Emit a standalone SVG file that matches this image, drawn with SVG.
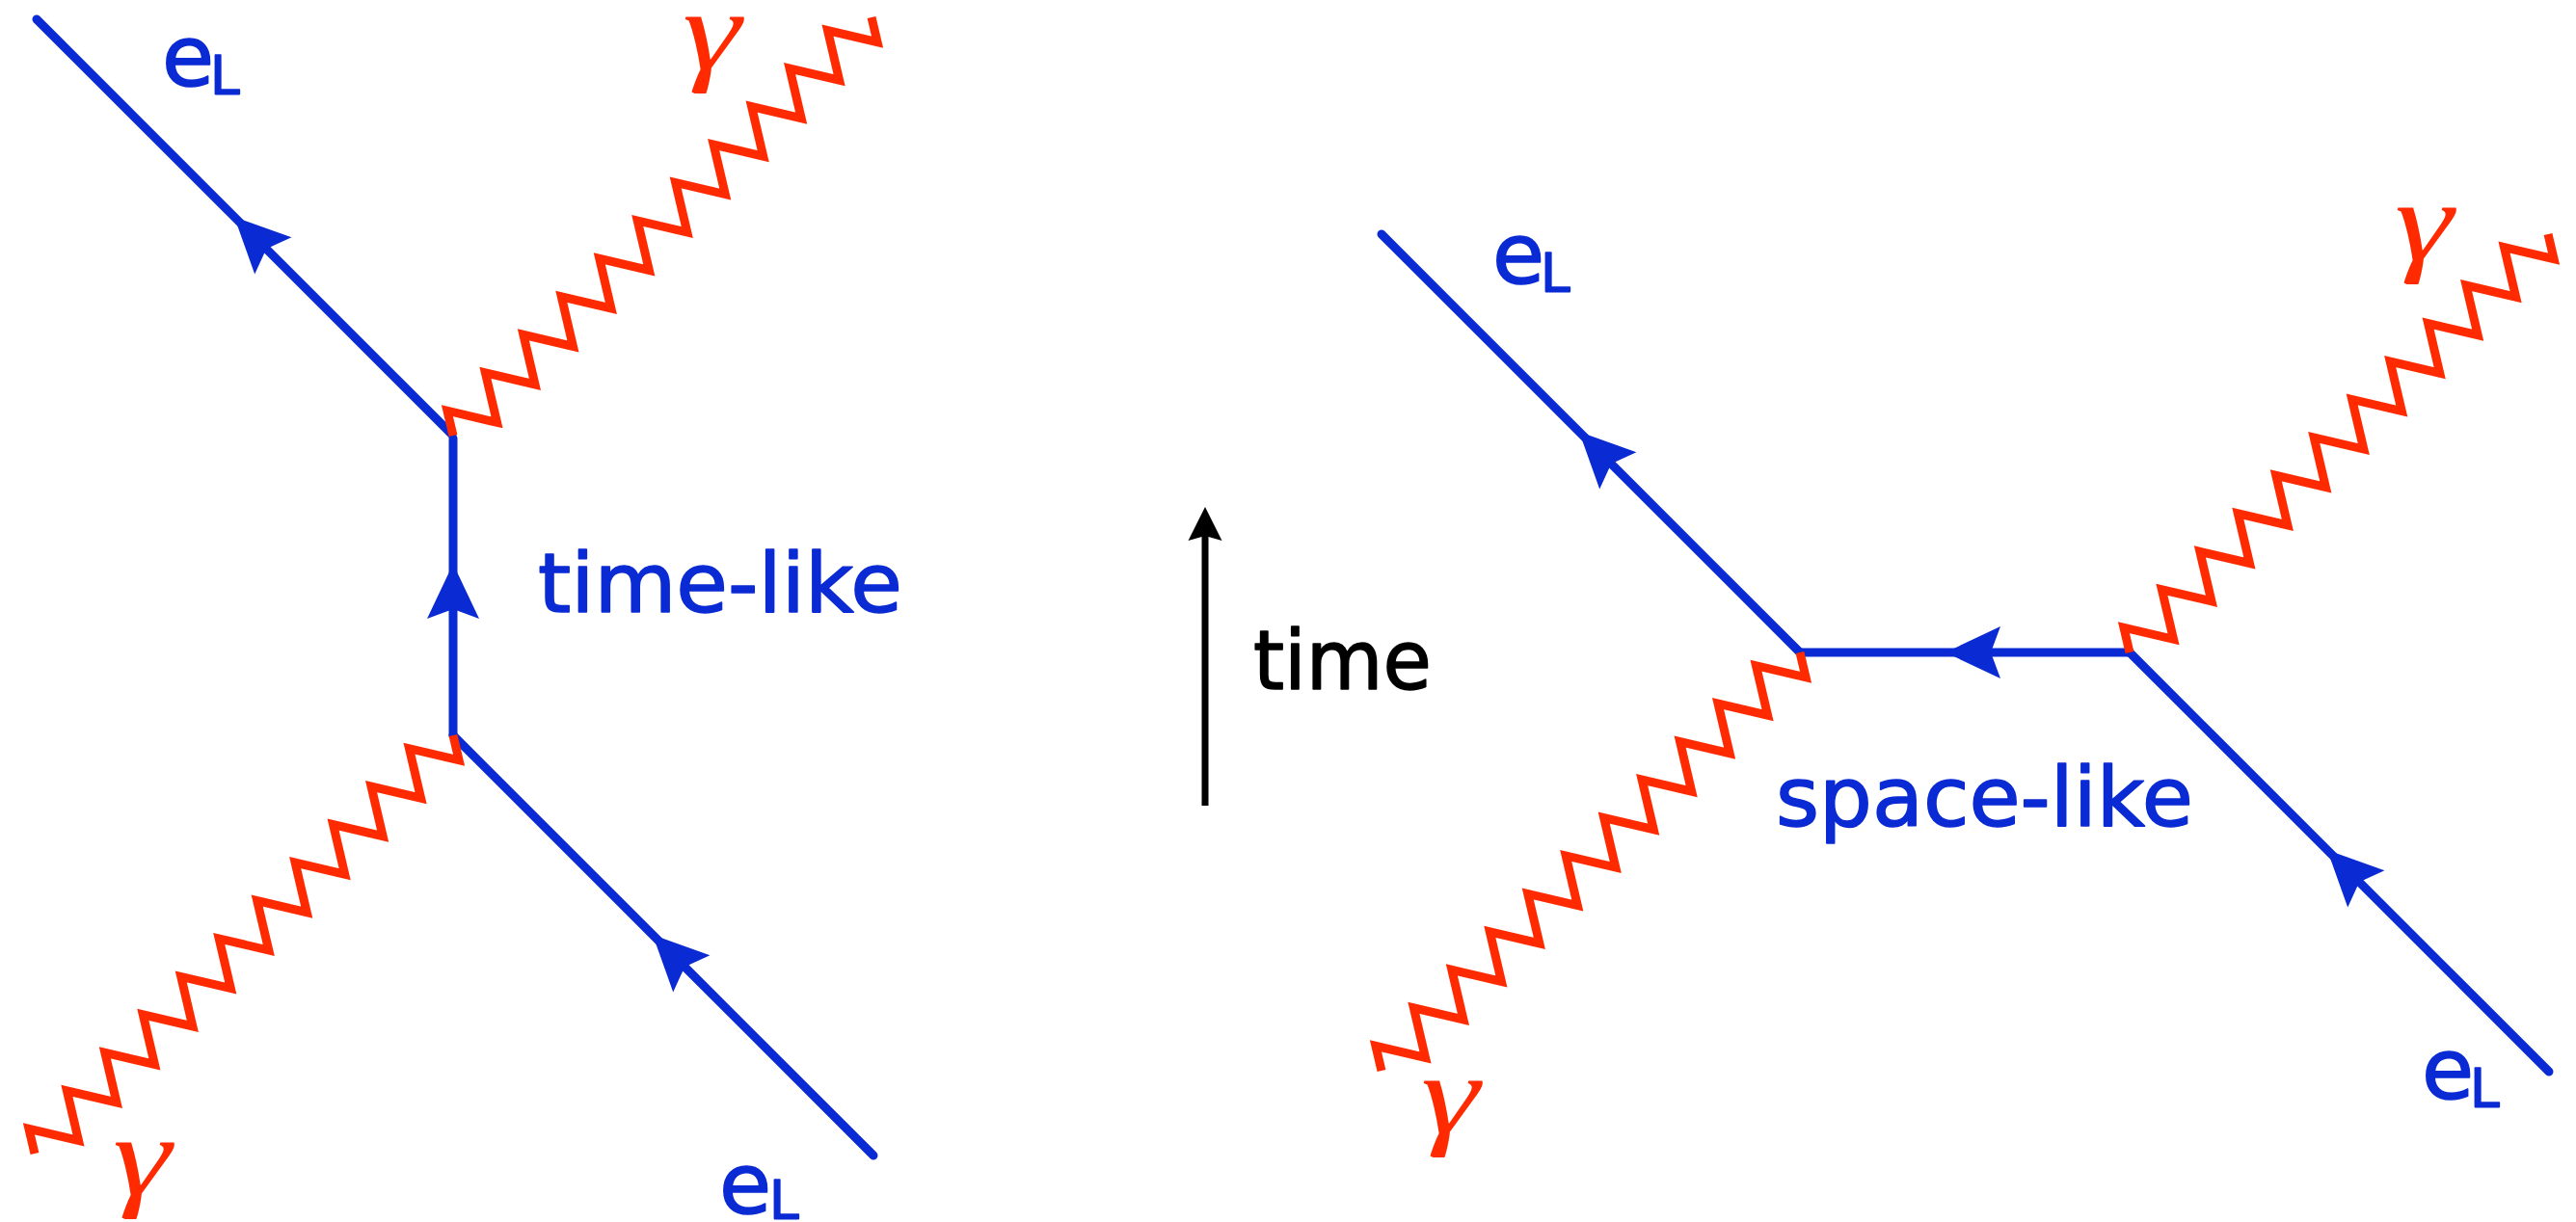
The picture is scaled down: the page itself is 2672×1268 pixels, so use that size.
<svg xmlns="http://www.w3.org/2000/svg" xmlns:xlink="http://www.w3.org/1999/xlink" width="2672" height="1268" viewBox="0 0 2672 1268">
  <style>
    .fermion { fill: none; stroke: #0a2ad4; stroke-width: 9; stroke-linecap: round; }
    .photon { fill: none; stroke: #ff2a00; stroke-width: 9; stroke-linejoin: miter; stroke-linecap: butt; }
    .arrowhead { fill: #0a2ad4; }
    .lbl { font-family: "DejaVu Sans", "Liberation Sans", sans-serif; fill: #0a2ad4; stroke: #0a2ad4; stroke-width: 1.6; stroke-linejoin: round; }
    .blk { fill: #000000; stroke: #000000; }
    .gam { font-family: "Liberation Serif", "DejaVu Serif", serif; font-style: italic; fill: #ff2a00; font-size: 118px; }
    .big { font-size: 85px; }
    .e { font-size: 88px; }
    .sub { font-size: 55px; }
  </style>
  <defs>
    <path id="wave" d="M0,0 l13.95,-22.5 l27.9,45 l27.9,-45 l27.9,45 l27.9,-45 l27.9,45 l27.9,-45 l27.9,45 l27.9,-45 l27.9,45 l27.9,-45 l27.9,45 l27.9,-45 l27.9,45 l27.9,-45 l27.9,45 l27.9,-45 l27.9,45 l27.9,-45 l27.9,45 l27.9,-45 l27.9,45 l13.95,-22.5"/>
    <path id="arr" d="M0,0 L-57,-27 L-47,0 L-57,27 Z"/>
  </defs>
  <rect width="2672" height="1268" fill="#ffffff"/>

  <g id="connectors">
    <!-- left diagram: time-like -->
    <line class="fermion" x1="38" y1="20" x2="469" y2="451"/>
    <line class="fermion" x1="470" y1="455" x2="470" y2="763"/>
    <line class="fermion" x1="470" y1="763" x2="906" y2="1199"/>
    <use href="#arr" class="arrowhead" transform="translate(243,225) rotate(-135)"/>
    <use href="#arr" class="arrowhead" transform="translate(470,585) rotate(-90)"/>
    <use href="#arr" class="arrowhead" transform="translate(677,970) rotate(-135)"/>
    <use href="#wave" class="photon" transform="translate(470,452) rotate(-45)"/>
    <use href="#wave" class="photon" transform="translate(470,763) rotate(135)"/>

    <!-- right diagram: space-like -->
    <line class="fermion" x1="1433" y1="243" x2="1867" y2="677"/>
    <line class="fermion" x1="1867" y1="677" x2="2209" y2="677"/>
    <line class="fermion" x1="2209" y1="677" x2="2644" y2="1112"/>
    <use href="#arr" class="arrowhead" transform="translate(1638,448) rotate(-135)"/>
    <use href="#arr" class="arrowhead" transform="translate(2018,677) rotate(180)"/>
    <use href="#arr" class="arrowhead" transform="translate(2414,882) rotate(-135)"/>
    <use href="#wave" class="photon" transform="translate(2209,677) rotate(-45)"/>
    <use href="#wave" class="photon" transform="translate(1867,677) rotate(135)"/>

    <!-- time axis -->
    <g id="time-axis">
      <line x1="1250" y1="836" x2="1250" y2="545" stroke="#000000" stroke-width="7"/>
      <path d="M0,0 L-35,-17.5 L-30,0 L-35,17.5 Z" fill="#000000" transform="translate(1250,526) rotate(-90)"/>
    </g>
  </g>

  <g id="label-eL-left-top"><text class="lbl e" x="168" y="89">e</text><text class="lbl sub" x="218" y="97">L</text></g>
  <g id="label-gamma-left-top"><text class="gam" transform="translate(708,72) scale(1.3,1)">γ</text></g>
  <g id="label-timelike"><text class="lbl big" x="558" y="635" textLength="378" lengthAdjust="spacingAndGlyphs">time-like</text></g>
  <g id="label-gamma-left-bottom"><text class="gam" transform="translate(117,1240) scale(1.3,1)">γ</text></g>
  <g id="label-eL-left-bottom"><text class="lbl e" x="746" y="1259">e</text><text class="lbl sub" x="798" y="1264">L</text></g>

  <g id="label-time"><text class="lbl blk big" x="1300" y="715" textLength="185" lengthAdjust="spacingAndGlyphs">time</text></g>

  <g id="label-eL-right-top"><text class="lbl e" x="1548" y="294">e</text><text class="lbl sub" x="1598" y="302">L</text></g>
  <g id="label-gamma-right-top"><text class="gam" transform="translate(2484,270) scale(1.3,1)">γ</text></g>
  <g id="label-spacelike"><text class="lbl big" x="1842" y="857" textLength="433" lengthAdjust="spacingAndGlyphs">space-like</text></g>
  <g id="label-gamma-right-bottom"><text class="gam" transform="translate(1474,1176) scale(1.3,1)">γ</text></g>
  <g id="label-eL-right-bottom"><text class="lbl e" x="2512" y="1140">e</text><text class="lbl sub" x="2562" y="1148">L</text></g>
</svg>
